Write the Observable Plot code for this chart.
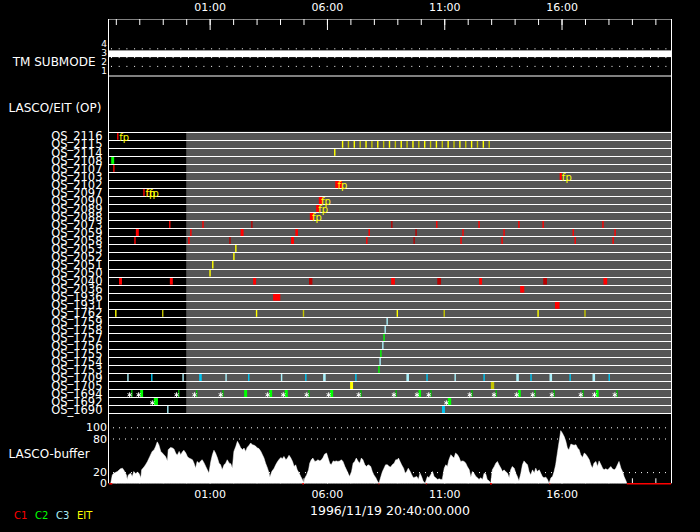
<!DOCTYPE html>
<html><head><meta charset="utf-8">
<script src="https://cdn.jsdelivr.net/npm/d3@7"></script>
<script src="https://cdn.jsdelivr.net/npm/@observablehq/plot@0.6"></script>
<style>
html,body{margin:0;padding:0;background:#000;}
#chart{position:relative;width:700px;height:532px;background:#000;overflow:hidden;font-family:"DejaVu Sans",sans-serif;}
.panel{position:absolute;left:0;width:700px;overflow:hidden;}
.panel svg{display:block;}
.top{background:#000;z-index:5;}
.lg{position:absolute;top:510px;font-size:10px;font-family:"DejaVu Sans",sans-serif;}
</style></head><body><div id="chart"></div>
<script>
// ---------- data ----------
const startLabel = "1996/11/19 20:40:00.000";
const topTickLabels = ["01:00", "06:00", "11:00", "16:00"];
const submodeLevels = [1, 2, 3, 4];
const submodeSpans = [["20:40", "20:40", 3]]; // whole day in submode 3
const osNames = ["OS_2116","OS_2115","OS_2114","OS_2108","OS_2107","OS_2103","OS_2102","OS_2097","OS_2090","OS_2089","OS_2088","OS_2073","OS_2059","OS_2058","OS_2053","OS_2052","OS_2051","OS_2050","OS_2040","OS_2036","OS_1936","OS_1931","OS_1762","OS_1759","OS_1758","OS_1757","OS_1756","OS_1755","OS_1754","OS_1753","OS_1709","OS_1705","OS_1694","OS_1692","OS_1690"];
const grayFrom = "00:00";
// [program, start, end, shade(0 bright / 1 dark)]
const c1Events = [
 ["OS_2116","21:05","21:05",0],["OS_2107","20:55","20:55",0],["OS_2103","15:57","15:59",0],["OS_2102","06:23","06:37",0],
 ["OS_2097","22:12","22:12",0],["OS_2097","22:21","22:21",0],["OS_2090","05:41","05:47",0],["OS_2089","05:34","05:39",0],["OS_2088","05:18","05:25",0],
 ["OS_2073","23:18","23:18",0],["OS_2073","00:43","00:43",0],["OS_2073","02:48","02:48",1],["OS_2073","08:46","08:46",1],["OS_2073","10:41","10:41",0],["OS_2073","12:29","12:29",0],["OS_2073","14:11","14:11",0],["OS_2073","15:13","15:13",0],["OS_2073","17:46","17:46",0],
 ["OS_2059","21:53","21:57",0],["OS_2059","00:12","00:12",0],["OS_2059","02:21","02:25",0],["OS_2059","04:41","04:44",0],["OS_2059","07:48","07:48",0],["OS_2059","09:48","09:48",1],["OS_2059","11:48","11:48",0],["OS_2059","13:33","13:33",0],["OS_2059","16:30","16:30",0],["OS_2059","18:17","18:17",0],
 ["OS_2058","21:49","21:49",0],["OS_2058","00:07","00:07",0],["OS_2058","01:52","01:52",1],["OS_2058","04:30","04:34",0],["OS_2058","07:42","07:42",0],["OS_2058","09:43","09:43",1],["OS_2058","11:43","11:43",0],["OS_2058","13:28","13:28",0],["OS_2058","16:35","16:35",0],["OS_2058","18:12","18:12",0],
 ["OS_2040","21:10","21:14",0],["OS_2040","23:20","23:24",0],["OS_2040","02:53","02:57",0],["OS_2040","05:16","05:21",1],["OS_2040","08:46","08:52",0],["OS_2040","10:44","10:50",1],["OS_2040","12:31","12:35",0],["OS_2040","15:15","15:21",1],["OS_2040","17:49","17:55",0],
 ["OS_2036","14:16","14:23",0],["OS_1936","03:44","03:59",0],["OS_1931","15:45","15:53",0]
];
const c2Events = [
 ["OS_2108","20:50","20:54",0],["OS_1757","08:26","08:26",0],["OS_1755","08:18","08:18",0],["OS_1753","08:13","08:13",0],
 ["OS_1694","21:41","21:41",1],["OS_1694","22:04","22:08",0],["OS_1694","23:41","23:41",1],["OS_1694","00:27","00:27",1],["OS_1694","01:34","01:34",1],["OS_1694","02:30","02:34",0],
 ["OS_1694","03:34","03:38",0],["OS_1694","04:14","04:18",0],["OS_1694","05:14","05:14",1],["OS_1694","06:10","06:14",0],["OS_1694","07:27","07:27",1],["OS_1694","08:57","08:57",1],
 ["OS_1694","09:56","09:59",0],["OS_1694","10:26","10:26",1],["OS_1694","12:11","12:11",1],["OS_1694","13:13","13:13",1],["OS_1694","14:11","14:14",0],["OS_1694","14:52","14:52",1],
 ["OS_1694","15:41","15:41",1],["OS_1694","16:55","16:55",1],["OS_1694","17:30","17:33",0],["OS_1694","18:22","18:22",1],
 ["OS_1692","22:39","22:46",0],["OS_1692","11:11","11:16",0]
];
const c3Events = [
 ["OS_1759","08:34","08:34",0],["OS_1758","08:29","08:29",0],["OS_1756","08:23","08:23",0],["OS_1754","08:16","08:16",0],
 ["OS_1709","21:31","21:31",0],["OS_1709","22:32","22:32",1],["OS_1709","23:52","23:52",0],["OS_1709","00:35","00:38",1],["OS_1709","01:42","01:42",0],["OS_1709","02:40","02:40",1],
 ["OS_1709","04:04","04:04",0],["OS_1709","05:06","05:06",1],["OS_1709","05:52","05:55",0],["OS_1709","07:14","07:14",1],["OS_1709","09:25","09:28",0],["OS_1709","10:16","10:16",1],
 ["OS_1709","11:28","11:28",0],["OS_1709","12:42","12:42",1],["OS_1709","14:06","14:09",0],["OS_1709","14:42","14:42",1],["OS_1709","15:31","15:34",0],["OS_1709","16:22","16:22",1],
 ["OS_1709","17:21","17:24",0],["OS_1709","18:02","18:02",1],
 ["OS_1690","23:13","23:13",0],["OS_1690","10:56","11:00",1]
];
const eitEvents = [
 ["OS_2115","06:40","06:40",0],["OS_2115","06:55","06:55",1],["OS_2115","07:10","07:10",0],["OS_2115","07:25","07:25",1],["OS_2115","07:40","07:40",0],["OS_2115","07:55","07:55",1],
 ["OS_2115","08:10","08:10",0],["OS_2115","08:25","08:25",1],["OS_2115","08:40","08:40",0],["OS_2115","08:55","08:55",1],["OS_2115","09:10","09:10",0],["OS_2115","09:25","09:25",1],
 ["OS_2115","09:40","09:40",0],["OS_2115","09:55","09:55",1],["OS_2115","10:10","10:10",0],["OS_2115","10:25","10:25",1],["OS_2115","10:40","10:40",0],["OS_2115","10:55","10:55",1],
 ["OS_2115","11:10","11:10",0],["OS_2115","11:25","11:25",1],["OS_2115","11:40","11:40",0],["OS_2115","11:55","11:55",1],["OS_2115","12:10","12:10",0],["OS_2115","12:25","12:25",1],
 ["OS_2115","12:40","12:40",0],["OS_2115","12:55","12:55",1],
 ["OS_2114","06:20","06:20",0],["OS_2053","02:07","02:07",0],["OS_2052","02:02","02:02",0],["OS_2051","01:08","01:08",0],["OS_2050","01:01","01:01",0],
 ["OS_1762","21:00","21:00",0],["OS_1762","23:00","23:00",1],["OS_1762","03:00","03:00",0],["OS_1762","05:00","05:00",1],["OS_1762","09:00","09:00",0],["OS_1762","11:00","11:00",1],["OS_1762","15:00","15:00",0],["OS_1762","17:00","17:00",1],
 ["OS_1705","07:01","07:05",0],["OS_1705","13:01","13:06",1]
];
const fpMarks = [["OS_2116","21:05"],["OS_2103","15:57"],["OS_2102","06:23"],["OS_2097","22:12"],["OS_2097","22:21"],["OS_2090","05:41"],["OS_2089","05:34"],["OS_2088","05:18"]];
const starMarks = [
 ["OS_1694","21:41"],["OS_1694","22:04"],["OS_1694","23:41"],["OS_1694","00:27"],["OS_1694","01:34"],["OS_1694","03:34"],["OS_1694","04:14"],["OS_1694","05:14"],
 ["OS_1694","06:10"],["OS_1694","07:27"],["OS_1694","08:57"],["OS_1694","09:56"],["OS_1694","10:26"],["OS_1694","12:11"],["OS_1694","13:13"],["OS_1694","14:11"],
 ["OS_1694","14:52"],["OS_1694","15:41"],["OS_1694","16:55"],["OS_1694","17:30"],["OS_1694","18:22"],["OS_1692","22:39"],["OS_1692","11:11"]
];
const instruments = ["C1", "C2", "C3", "EIT"];
const instrumentColors = {C1: ["#ff0000", "#b80000"], C2: ["#00ff00", "#00b800"], C3: ["#a8eef8", "#00c4f0"], EIT: ["#ffff00", "#c4c400"]};
// LASCO buffer fill, minutes after 20:40 and percent
const bufferMinutes = [7,11,15,24,32,37,41,47,49,52,58,62,66,71,75,79,84,86,92,96,101,107,113,118,122,126,130,135,139,143,147,152,154,160,165,169,173,177,182,186,190,194,199,203,207,211,216,220,224,228,233,237,241,246,250,254,258,263,267,271,275,280,284,288,292,297,301,305,310,314,318,322,327,331,335,339,344,348,352,356,361,365,369,374,378,382,386,391,395,399,403,408,412,414,419,425,429,433,437,442,446,450,455,459,463,467,472,476,480,484,489,493,497,501,504,508,513,516,520,524,529,533,537,542,546,550,554,559,563,567,571,576,580,584,588,593,597,601,606,610,614,618,623,627,631,635,640,644,648,652,657,661,665,669,
 672,676,680,685,689,693,698,702,706,710,715,719,723,727,732,736,740,743,747,751,756,760,764,768,773,777,781,785,790,794,798,802,806,811,817,821,825,830,834,838,843,847,851,855,860,864,868,872,877,881,885,889,894,898,902,907,911,915,919,924,928,932,936,941,945,949,953,958,962,966,970,975,979,983,988,992,996,1000,1005,1009,1013,1017,1022,1026,1030,1034,1039,1043,1047,1051,1056,1060,1064,1069,1073,1077,1081,1086,1090,1094,1098,1103,1107,1111,1115,1120,1124,1128,1133,1137,1141,1145,1150,1154,1158,1162,1167,1171,1175,1179,1184,1188,1192,1197,1201,1205,1209,1214,1218,1222,1226,1231,1235,1239,1243,1248,1252,1256,1261,1265,1269,1273,1278,1282,1286,1290,1295,1299,1303,1307,1312,1316,1320,1325,1327];
const bufferPercent = [0,15,18,21,26,27,23,15,7,15,18,12,21,17,20,18,10,24,29,33,39,48,57,60,66,74,69,57,54,51,48,40,60,64,63,61,54,50,57,51,56,59,54,48,45,44,42,36,27,39,36,40,42,36,30,24,18,39,51,59,54,45,36,33,24,33,36,42,36,35,27,57,66,75,70,64,60,63,57,64,68,72,69,68,66,63,62,57,51,45,36,27,18,11,21,27,33,38,42,46,44,48,42,45,50,46,39,30,33,24,18,12,7,0,10,15,24,36,42,45,39,40,42,40,42,46,52,54,45,36,33,40,39,40,39,40,42,39,30,24,18,12,21,36,39,45,39,36,45,42,33,30,33,32,
 30,21,15,10,4,0,12,21,27,33,33,30,29,33,36,42,42,45,39,33,27,18,21,27,21,15,10,11,12,7,18,12,4,0,12,10,15,21,12,10,7,8,7,7,27,33,30,42,51,48,45,54,51,46,39,40,39,36,30,24,11,21,18,12,10,7,10,7,18,17,7,4,0,24,30,36,39,33,27,21,24,21,18,10,24,30,27,18,12,4,18,33,40,36,33,21,15,24,18,27,21,24,18,12,10,11,7,0,10,12,21,33,57,75,94,90,83,75,63,60,70,69,68,69,63,60,51,46,54,52,48,42,33,27,36,39,30,40,33,27,24,26,24,27,30,26,24,27,33,39,27,21,12,4,0];
const bufferZeroSpans = [["20:43","20:51"],["04:57","05:01"],["08:12","08:14"],["10:13","10:15"],["12:57","13:02"],["15:29","15:31"],["18:47","20:40"]];
const bufferTicks = [0, 20, 80, 100];
const bufferGrid = [20, 80, 100];

// ---------- helpers ----------
const T0 = Date.UTC(1996, 10, 19, 20, 40);
const tStart = new Date(T0), tEnd = new Date(T0 + 24 * 3600e3);
const atMin = m => new Date(T0 + m * 60000);
function clock(s, isEnd) {
  const [h, m] = s.split(":").map(Number);
  let off = h * 60 + m - (20 * 60 + 40);
  if (off < 0 || (isEnd && off === 0)) off += 1440;
  return atMin(off);
}
const rowOf = os => osNames.indexOf(os);
const hours = d3.utcHour.range(tStart, tEnd);
const majorHours = topTickLabels.map(s => clock(s));
const font = "DejaVu Sans, sans-serif";
const W = 700, ML = 108, MR = 29;
const xScale = {type: "utc", domain: [tStart, tEnd], axis: null};
const baseStyle = {background: "transparent", color: "white", fontFamily: font};

const allEvents = [];
[["C1", c1Events], ["C2", c2Events], ["C3", c3Events], ["EIT", eitEvents]].forEach(([k, arr]) =>
  arr.forEach(([os, a, b, s]) => allEvents.push({os, t1: clock(a), t2: clock(b), color: instrumentColors[k][s]})));
const buffer = bufferMinutes.map((m, i) => ({t: atMin(m), v: bufferPercent[i]}));
const frameEdges = [tStart, tEnd];

const chart = document.getElementById("chart");
function place(svg, top, h, extra) {
  const div = document.createElement("div");
  div.className = "panel" + (extra ? " " + extra : "");
  div.style.top = top + "px";
  div.style.height = h + "px";
  div.appendChild(svg);
  chart.appendChild(div);
}

// ---------- panel 0: top time labels ----------
const h0 = 19;
const plot0 = Plot.plot({
  width: W, height: h0, marginLeft: ML, marginRight: MR, marginTop: 0, marginBottom: 0,
  style: baseStyle, x: xScale,
  marks: [
    Plot.text(majorHours, {x: d => d, frameAnchor: "bottom", dy: -9, text: (d, i) => topTickLabels[i], fill: "white", fontSize: 11})
  ]
});
place(plot0, 0, h0, "top");

// ---------- panel A: TM submode ----------
const topA = 19, hA = 58, mbA = 1, innerA = hA - mbA;
const yA = [0.85, 7.33];
const plotA = Plot.plot({
  width: W, height: hA, marginLeft: ML, marginRight: MR, marginTop: 0, marginBottom: mbA,
  style: baseStyle, x: xScale, y: {domain: yA, axis: null},
  marks: [
    Plot.rect(submodeSpans, {x1: d => clock(d[0]), x2: d => clock(d[1], true), y1: d => d[2], y2: d => d[2] + 0.76, fill: "white"}),
    Plot.ruleY([4, 3, 2], {stroke: "white", strokeDasharray: "1,6.7", insetLeft: 3}),
    Plot.ruleX(hours, {stroke: "white", insetBottom: innerA - 6}),
    Plot.ruleX(majorHours, {stroke: "white", insetBottom: innerA - 11}),
    Plot.ruleY(yA, {stroke: "white", dy: -0.5}),
    Plot.ruleX(frameEdges, {x: d => d, y1: () => yA[0], y2: () => yA[1], stroke: "white"}),
    Plot.text(submodeLevels, {y: d => d, frameAnchor: "left", dx: -1.5, dy: -4.3, textAnchor: "end", text: d => String(d), fill: "white", fontSize: 9}),
    Plot.text(["TM SUBMODE"], {frameAnchor: "top-left", dx: -13, dy: 38, textAnchor: "end", text: d => d, fill: "white", fontSize: 12})
  ]
});
place(plotA, topA, hA);

// ---------- panel B: LASCO/EIT (OP) ----------
const topB = 76, hB = 345, mtB = 55.7, mbB = 7.6;
const rowStep = (hB - mtB - mbB) / osNames.length;
const plotB = Plot.plot({
  width: W, height: hB, marginLeft: ML, marginRight: MR, marginTop: mtB, marginBottom: mbB,
  style: baseStyle, x: xScale, y: {domain: [-0.5, osNames.length - 0.5], reverse: true, axis: null},
  marks: [
    Plot.rect([grayFrom], {x1: d => clock(d), x2: () => tEnd, y1: () => -0.5, y2: () => osNames.length - 0.5, fill: "#555555"}),
    Plot.rect(allEvents, {x1: "t1", x2: "t2", y1: d => rowOf(d.os) - 0.5, y2: d => rowOf(d.os) + 0.5, fill: "color", insetLeft: -0.7, insetRight: -0.7, insetTop: 0.5}),
    Plot.ruleY(d3.range(osNames.length + 1), {y: k => k - 0.5, stroke: "white", shapeRendering: "crispEdges"}),
    Plot.text(fpMarks, {x: d => clock(d[1]), y: d => rowOf(d[0]), text: () => "fp", fill: "#ffff00", textAnchor: "start", dx: 1, dy: 1.2, fontSize: 10}),
    Plot.dot(starMarks, {x: d => clock(d[1]), y: d => rowOf(d[0]), symbol: "asterisk", r: 2.3, stroke: "white", strokeWidth: 1, dx: -2.7, dy: 1}),
    Plot.ruleX(frameEdges, {x: d => d, y1: () => -0.5 - mtB / rowStep, y2: () => osNames.length - 0.5 + (415 - topB - (hB - mbB)) / rowStep, stroke: "white"}),
    Plot.text(osNames, {y: (d, i) => i, frameAnchor: "left", dx: -6, dy: 0.5, textAnchor: "end", text: d => d, fill: "white", fontSize: 11.5}),
    Plot.text(["LASCO/EIT (OP)"], {frameAnchor: "top-left", dx: 8 - ML, dy: 103 - topB - mtB, textAnchor: "start", text: d => d, fill: "white", fontSize: 12})
  ]
});
place(plotB, topB, hB);

// ---------- panel C: LASCO buffer ----------
const topC = 415, hC = 117, mtC = 12.3, mbC = 48.7, innerC = hC - mtC - mbC;
const plotC = Plot.plot({
  width: W, height: hC, marginLeft: ML, marginRight: MR, marginTop: mtC, marginBottom: mbC,
  style: baseStyle, x: xScale, y: {domain: [0, 100], axis: null},
  marks: [
    Plot.ruleY(bufferGrid, {stroke: "white", strokeDasharray: "1,5", insetLeft: 5}),
    Plot.ruleX(hours, {stroke: "white", insetTop: innerC - 5}),
    Plot.ruleX(majorHours, {stroke: "white", insetTop: innerC - 11}),
    Plot.areaY(buffer, {x: "t", y: "v", fill: "white", stroke: "white", strokeWidth: 0.5}),
    Plot.ruleY(bufferZeroSpans, {y: () => 0, x1: d => clock(d[0]), x2: d => clock(d[1], true), stroke: "#ff0000", strokeWidth: 1.5}),
    Plot.ruleX(frameEdges, {x: d => d, y1: () => 0, y2: () => 100 * (1 + mtC / innerC), stroke: "white"}),
    Plot.text(bufferTicks, {y: d => d, frameAnchor: "left", dx: -1.5, textAnchor: "end", text: d => String(d), fill: "white", fontSize: 11}),
    Plot.text(["LASCO-buffer"], {frameAnchor: "top-left", dx: 8 - ML, dy: 449 - topC - mtC, textAnchor: "start", text: d => d, fill: "white", fontSize: 12}),
    Plot.text(majorHours, {x: d => d, frameAnchor: "bottom", dy: 14.4, text: (d, i) => topTickLabels[i], fill: "white", fontSize: 11}),
    Plot.text([startLabel], {frameAnchor: "bottom", dy: 30.7, text: d => d, fill: "white", fontSize: 12.5})
  ]
});
place(plotC, topC, hC);

// ---------- legend ----------
const legendLeft = [14, 35, 56, 77];
instruments.forEach((k, i) => {
  const s = document.createElement("span");
  s.className = "lg";
  s.style.left = legendLeft[i] + "px";
  s.style.color = instrumentColors[k][0];
  s.textContent = k;
  chart.appendChild(s);
});
</script>
</body></html>
